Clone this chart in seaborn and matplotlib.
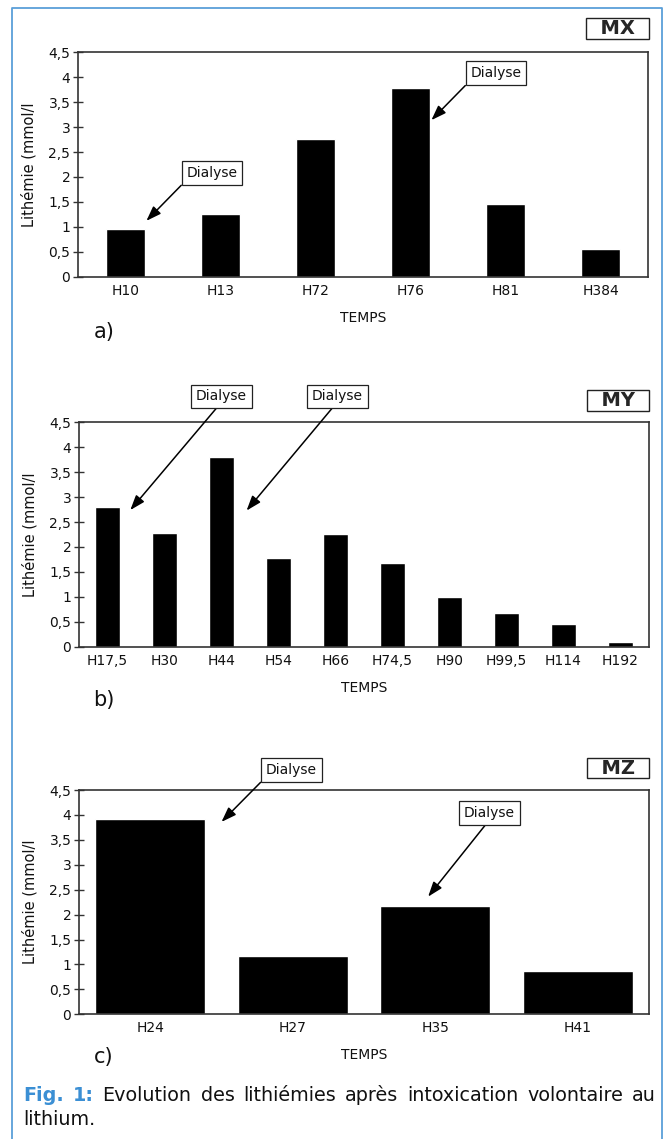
import numpy as np
import matplotlib
matplotlib.use('Agg')
import matplotlib.pyplot as plt
from matplotlib.lines import Line2D
import seaborn as sns

W, H = 671, 1139

# values (mmol/l)
mx_temps = ['H10', 'H13', 'H72', 'H76', 'H81', 'H384']
mx_lith = [0.95, 1.25, 2.77, 3.79, 1.45, 0.55]

my_temps = ['H17,5', 'H30', 'H44', 'H54', 'H66', 'H74,5', 'H90', 'H99,5', 'H114', 'H192']
my_lith = [2.81, 2.28, 3.80, 1.78, 2.26, 1.68, 1.00, 0.67, 0.46, 0.10]

mz_temps = ['H24', 'H27', 'H35', 'H41']
mz_lith = [3.91, 1.17, 2.17, 0.87]

y_ticks = [0, 0.5, 1, 1.5, 2, 2.5, 3, 3.5, 4, 4.5]
y_labels = ['0', '0,5', '1', '1,5', '2', '2,5', '3', '3,5', '4', '4,5']

# dialyse callouts: arrow tip (x, y), box centre (x, y), arrow start on box
mx_dialyse = [((0.22, 1.12), (0.91, 2.08), (0, 0)),
              ((3.22, 3.14), (3.90, 4.08), (0, 0))]
my_dialyse = [((0.40, 2.74), (2.00, 5.02), (0.48, 0)),
              ((2.44, 2.73), (4.03, 5.02), (0.48, 0))]
mz_dialyse = [((0.50, 3.86), (0.99, 4.90), (0, 0)),
              ((1.95, 2.36), (2.38, 4.04), (0.5, 0))]

caption_bold = ['Fig.', '1:']
caption_line1 = ['Evolution', 'des', 'lithiémies', 'après', 'intoxication', 'volontaire', 'au']
caption_line2 = 'lithium.'

sns.set_style('white')
plt.rcParams['font.family'] = ['DejaVu Sans']

fig = plt.figure(figsize=(W / 100, H / 100), dpi=100)
fig.patch.set_facecolor('white')


def px_rect(left, top, right, bottom):
    return [left / W, 1 - bottom / H, (right - left) / W, (bottom - top) / H]


def panel(rect, temps, lith, bar_w, tag, tag_xy, dialyse, letter, letter_xy):
    ax = fig.add_axes(px_rect(*rect))
    sns.barplot(x=temps, y=lith, color='black', saturation=1, width=bar_w,
                errorbar=None, ax=ax)
    n = len(temps)
    ax.set_xlim(-0.5, n - 0.5)
    ax.set_ylim(0, 4.5)
    ax.set_yticks(y_ticks)
    ax.set_yticklabels(y_labels)
    ax.set_xticks(np.arange(1, n) - 0.5, minor=True)
    ax.tick_params(axis='x', which='major', length=0, pad=5, labelsize=10, labelcolor='#111')
    ax.tick_params(axis='x', which='minor', direction='inout', length=5, width=1, color='#333')
    ax.tick_params(axis='y', direction='inout', length=7, width=1, color='#333',
                   pad=2, labelsize=10, labelcolor='#111', left=True)
    for s in ax.spines.values():
        s.set_visible(True)
        s.set_color('#333')
        s.set_linewidth(1.2)
    ax.set_xlabel('TEMPS', fontsize=10, color='#111')
    ax.xaxis.set_label_coords(0.5, -41 / 224.4)
    ax.xaxis.label.set_va('center')
    ax.set_ylabel('Lithémie (mmol/l', fontsize=10.5, color='#111')
    ax.yaxis.set_label_coords(-49 / 570, 0.5)
    ax.yaxis.label.set_va('center')

    ax.text(tag_xy[0], tag_xy[1], '  ' + tag + '  ', transform=ax.transAxes,
            ha='center', va='center', fontsize=14, fontweight='bold',
            bbox=dict(boxstyle='square,pad=0.05', fc='white', ec='#222', lw=1))
    for tip, box, rel in dialyse:
        ax.annotate('Dialyse', xy=tip, xytext=box, textcoords='data',
                    ha='center', va='center', fontsize=10, color='#111',
                    annotation_clip=False,
                    bbox=dict(boxstyle='square,pad=0.35', fc='white', ec='#222', lw=0.9),
                    arrowprops=dict(arrowstyle='-|>,head_length=0.9,head_width=0.32',
                                    color='black', lw=1.1, mutation_scale=10,
                                    relpos=rel, shrinkA=0, shrinkB=0))
    ax.text(letter_xy[0], letter_xy[1], letter, transform=ax.transAxes,
            ha='center', va='center', fontsize=15, color='#111')
    return ax


panel((78, 52.3, 648, 276.7), mx_temps, mx_lith, 0.42, 'MX', (0.946, 1.106),
      mx_dialyse, 'a)', (0.046, -0.245))
panel((79, 422.3, 649, 646.7), my_temps, my_lith, 0.45, 'MY', (0.946, 1.097),
      my_dialyse, 'b)', (0.044, -0.238))
panel((79, 790, 649, 1014.3), mz_temps, mz_lith, 0.77, 'MZ', (0.946, 1.098),
      mz_dialyse, 'c)', (0.044, -0.19))

# blue frame (left, top, right)
blue = '#5b9fd9'
fig.add_artist(Line2D([12 / W, 12 / W, 662 / W, 662 / W], [0, 1 - 8 / H, 1 - 8 / H, 0],
                      transform=fig.transFigure, color=blue, lw=1.3))

# caption, first line justified
cap_left, cap_right = 23, 656
y1 = 1 - 1101 / H
y2 = 1 - 1125 / H
cap_size = 13.8
words = []
for w in caption_bold:
    words.append(fig.text(0, y1, w, fontsize=cap_size, fontweight='bold', color='#3b8fd4',
                          va='baseline'))
for w in caption_line1:
    words.append(fig.text(0, y1, w, fontsize=cap_size, color='#111', va='baseline'))
renderer = fig.canvas.get_renderer()
widths = [t.get_window_extent(renderer).width for t in words]
gap = (cap_right - cap_left - sum(widths)) / (len(words) - 1)
x = cap_left
for t, wd in zip(words, widths):
    t.set_x(x / W)
    x += wd + gap
fig.text(cap_left / W, y2, caption_line2, fontsize=cap_size, color='#111', va='baseline')

fig.savefig('out.png', dpi=100, facecolor='white')
